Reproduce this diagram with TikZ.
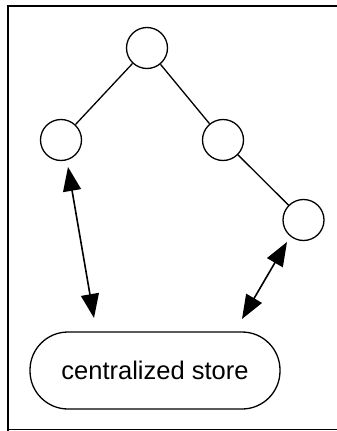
\documentclass[tikz,border=0pt]{standalone}
\usepackage{fontspec}
\setmainfont{Liberation Sans}
\usetikzlibrary{arrows.meta}
\begin{document}
\begin{tikzpicture}[x=1pt,y=-1pt,
  treenode/.style={draw, circle, line width=1.3pt, minimum size=41pt, inner sep=0pt},
  storebox/.style={draw, rounded corners=38pt, line width=1.3pt, minimum width=250pt, minimum height=77pt, inner sep=0pt, font=\fontsize{25.5}{29}\selectfont},
  treeedge/.style={line width=1.3pt},
  link/.style={line width=1.6pt, {Triangle[length=24pt,width=18pt]}-{Triangle[length=24pt,width=18pt]}},
  frame/.style={line width=2pt}]
\useasboundingbox (0,0) rectangle (337,431);
\node[treenode] (r) at (147,48) {};
\node[treenode] (a) at (61,140) {};
\node[treenode] (b) at (223,140) {};
\node[treenode] (c) at (303.5,220) {};
\node[storebox] (s) at (155,370.5) {centralized store};
\draw[treeedge] (r) -- (a);
\draw[treeedge] (r) -- (b);
\draw[treeedge] (b) -- (c);
\coordinate (a1) at (68,167);
\coordinate (a2) at (94,318);
\coordinate (c1) at (287,242);
\coordinate (c2) at (242,319);
\draw[link] (a1) -- (a2);
\draw[link] (c1) -- (c2);
\coordinate (f1) at (8,431);
\coordinate (f2) at (8,6);
\coordinate (f3) at (337,6);
\coordinate (f4) at (7,429.5);
\coordinate (f5) at (337,429.5);
\draw[frame] (f1) -- (f2) -- (f3);
\draw[line width=1pt] (f4) -- (f5);
\end{tikzpicture}
\end{document}
